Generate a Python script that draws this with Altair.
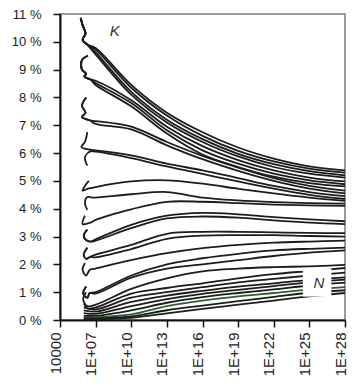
import altair as alt
import pandas as pd

# positions (log10 of x) at which the curves are read
log_x = [7, 10, 13, 16, 19, 22, 25, 28]

# percent values of each curve at log_x
curves = {
    "A1": [9.78, 8.45, 7.45, 6.75, 6.20, 5.80, 5.52, 5.38],
    "A2": [9.72, 8.35, 7.35, 6.62, 6.08, 5.70, 5.44, 5.30],
    "A3": [9.62, 8.20, 7.20, 6.50, 5.97, 5.60, 5.35, 5.20],
    "A4": [9.55, 8.10, 7.10, 6.40, 5.88, 5.50, 5.26, 5.12],
    "B1": [8.60, 7.90, 6.95, 6.25, 5.75, 5.38, 5.12, 4.98],
    "B2": [8.52, 7.80, 6.82, 6.10, 5.62, 5.26, 5.02, 4.88],
    "B3": [8.45, 7.68, 6.70, 5.95, 5.50, 5.15, 4.92, 4.80],
    "C1": [7.15, 6.95, 6.40, 5.90, 5.48, 5.10, 4.82, 4.65],
    "C2": [7.05, 6.85, 6.28, 5.78, 5.36, 5.00, 4.72, 4.55],
    "D1": [6.10, 5.92, 5.62, 5.38, 5.10, 4.82, 4.60, 4.45],
    "D2": [6.05, 5.82, 5.52, 5.25, 4.98, 4.72, 4.50, 4.35],
    "E1": [4.78, 4.98, 5.02, 4.90, 4.72, 4.55, 4.40, 4.28],
    "E2": [4.40, 4.52, 4.60, 4.40, 4.30, 4.24, 4.20, 4.18],
    "F1": [3.60, 3.98, 4.25, 4.25, 4.20, 4.15, 4.12, 4.10],
    "F2": [2.90, 3.42, 3.75, 3.85, 3.80, 3.70, 3.62, 3.55],
    "F3": [2.85, 3.30, 3.65, 3.72, 3.68, 3.58, 3.50, 3.45],
    "G1": [2.35, 2.70, 3.10, 3.17, 3.17, 3.15, 3.13, 3.12],
    "G2": [2.25, 2.55, 2.92, 3.03, 3.05, 3.05, 3.02, 3.00],
    "H1": [1.85, 2.15, 2.40, 2.58, 2.70, 2.78, 2.82, 2.85],
    "H2": [1.00, 1.60, 2.00, 2.22, 2.38, 2.50, 2.56, 2.60],
    "H3": [0.95, 1.52, 1.85, 2.00, 2.15, 2.30, 2.42, 2.50],
    "L1": [0.55, 1.12, 1.50, 1.75, 1.85, 1.90, 1.93, 1.98],
    "L2": [0.45, 0.95, 1.15, 1.32, 1.50, 1.65, 1.76, 1.87],
    "L3": [0.38, 0.80, 1.00, 1.18, 1.35, 1.48, 1.60, 1.70],
    "L4": [0.30, 0.65, 0.88, 1.05, 1.20, 1.32, 1.44, 1.53],
    "L5": [0.22, 0.50, 0.75, 0.94, 1.08, 1.22, 1.35, 1.45],
    "L6": [0.15, 0.35, 0.62, 0.82, 0.97, 1.10, 1.24, 1.34],
    "L7": [0.10, 0.20, 0.50, 0.70, 0.85, 0.97, 1.09, 1.18],
    "L8": [0.06, 0.13, 0.35, 0.52, 0.68, 0.83, 0.98, 1.07],
    "L9": [0.03, 0.08, 0.24, 0.40, 0.55, 0.70, 0.85, 0.97],
}

# wiggly starts of the curves: (log10 x list, percent list)
starts = {
    "A": ([5.74, 5.90, 6.15, 5.90, 6.30], [10.86, 10.60, 10.30, 10.07, 9.90]),
    "B": ([6.35, 5.85, 5.85, 6.20, 6.05, 6.55], [9.50, 9.35, 9.00, 8.85, 8.75, 8.65]),
    "C": ([6.20, 5.85, 6.15, 5.85, 6.50], [8.00, 7.70, 7.45, 7.30, 7.18]),
    "D1": ([6.30, 6.10, 5.80, 6.55], [6.75, 6.40, 6.22, 6.12]),
    "D2": ([6.30, 6.10, 6.55], [5.55, 5.85, 6.06]),
    "E1": ([6.43, 6.15, 5.90, 6.35, 6.70], [5.00, 4.85, 4.65, 4.72, 4.75]),
    "E2": ([6.30, 6.10, 6.30, 6.70], [3.96, 4.20, 4.42, 4.40]),
    "F1": ([6.10, 5.90, 6.57], [3.75, 3.45, 3.50]),
    "F": ([6.30, 6.00, 6.14, 6.55], [3.25, 3.05, 2.90, 2.82]),
    "G": ([6.30, 6.00, 6.20, 6.55], [2.60, 2.35, 2.20, 2.27]),
    "H1": ([6.10, 5.90, 6.20, 6.50], [2.05, 1.80, 1.60, 1.80]),
    "H": ([6.20, 5.95, 6.30, 6.50], [1.20, 0.95, 0.80, 0.97]),
    "L1": ([6.20, 5.95, 6.30], [1.00, 0.75, 0.50]),
    "L2": ([6.00, 6.30], [0.60, 0.42]),
    "L3": ([6.00], [0.45]),
    "L4": ([6.00], [0.35]),
    "L5": ([6.00], [0.25]),
    "L6": ([6.00], [0.15]),
    "L7": ([6.00], [0.10]),
    "L8": ([6.00], [0.05]),
    "L9": ([6.00], [0.02]),
}
start_of = {
    "A1": "A", "A2": "A", "A3": "A", "A4": "A",
    "B1": "B", "B2": "B", "B3": "B", "C1": "C", "C2": "C",
    "D1": "D1", "D2": "D2", "E1": "E1", "E2": "E2",
    "F1": "F1", "F2": "F", "F3": "F", "G1": "G", "G2": "G",
    "H1": "H1", "H2": "H", "H3": "H",
    "L1": "L1", "L2": "L2", "L3": "L3", "L4": "L4", "L5": "L5",
    "L6": "L6", "L7": "L7", "L8": "L8", "L9": "L9",
}
green_series = ["L7"]

x_tick_exp = [4, 7, 10, 13, 16, 19, 22, 25, 28]
y_ticks = [0, 1, 2, 3, 4, 5, 6, 7, 8, 9, 10, 11]

rows = []
for name, vals in curves.items():
    sx, sy = starts[start_of[name]]
    pts = list(zip(sx, sy)) + list(zip(log_x, vals))
    for i, (lx, v) in enumerate(pts):
        rows.append({"series": name, "i": i, "x": 10.0 ** lx, "y": v,
                     "kind": "g" if name in green_series else "k"})
df = pd.DataFrame(rows)

xscale = alt.Scale(type="log", domain=[1e4, 1e28])
yscale = alt.Scale(domain=[0, 11], nice=False, zero=False)

label_expr = ("datum.value < 1e5 ? '10000' : '1E+' + "
              "(round(log(datum.value)/LN10) < 10 ? '0' : '') + round(log(datum.value)/LN10)")

xaxis = alt.Axis(values=[10.0 ** e for e in x_tick_exp], labelExpr=label_expr,
                 labelAngle=270, labelFontSize=15, labelFont="Liberation Sans",
                 labelColor="#222", labelBaseline="alphabetic", tickSize=7,
                 tickColor="#111", tickWidth=1.5, domainColor="#111", domainWidth=2,
                 grid=False, labelPadding=5, labelFlush=False, labelOverlap=False,
                 title=None)
yaxis = alt.Axis(values=y_ticks, labelExpr="datum.value + ' %'", labelFontSize=13,
                 labelFont="Liberation Sans", labelColor="#222", tickSize=7,
                 tickColor="#111", tickWidth=1.5, domainColor="#111", domainWidth=2,
                 grid=False, labelPadding=12, labelOverlap=False, labelFlush=False,
                 title=None)

X = alt.X("x:Q", scale=xscale, axis=xaxis)
Y = alt.Y("y:Q", scale=yscale, axis=yaxis)

lines = alt.Chart(df).mark_line(strokeWidth=1.8, interpolate="catmull-rom").encode(
    x=X, y=Y,
    detail="series:N",
    order="i:Q",
    color=alt.Color("kind:N", scale=alt.Scale(domain=["k", "g"], range=["#1c1c1c", "#2e5e32"]),
                    legend=None),
)

box_df = pd.DataFrame({"x": [10.0 ** 24.45], "x2": [10.0 ** 26.85], "y": [0.84], "y2": [1.86]})
box = alt.Chart(box_df).mark_rect(color="white").encode(
    x=alt.X("x:Q", scale=xscale, axis=xaxis), x2="x2:Q",
    y=alt.Y("y:Q", scale=yscale, axis=yaxis), y2="y2:Q")

labels_df = pd.DataFrame({"x": [10.0 ** 8.6, 10.0 ** 25.8], "y": [10.4, 1.33], "t": ["K", "N"]})
labels = alt.Chart(labels_df).mark_text(fontStyle="italic", fontSize=15, font="Liberation Sans",
                                        color="#333").encode(
    x=alt.X("x:Q", scale=xscale, axis=xaxis), y=alt.Y("y:Q", scale=yscale, axis=yaxis),
    text="t:N")

chart = alt.layer(lines, box, labels).properties(
    width=285, height=306,
    autosize=alt.AutoSizeParams(type="none"),
    padding={"left": 52, "top": 6, "right": 2, "bottom": 57},
).configure_view(stroke="#9a9a9a", strokeWidth=2)

chart.save("out.html", embed_options={"renderer": "svg", "actions": False})
